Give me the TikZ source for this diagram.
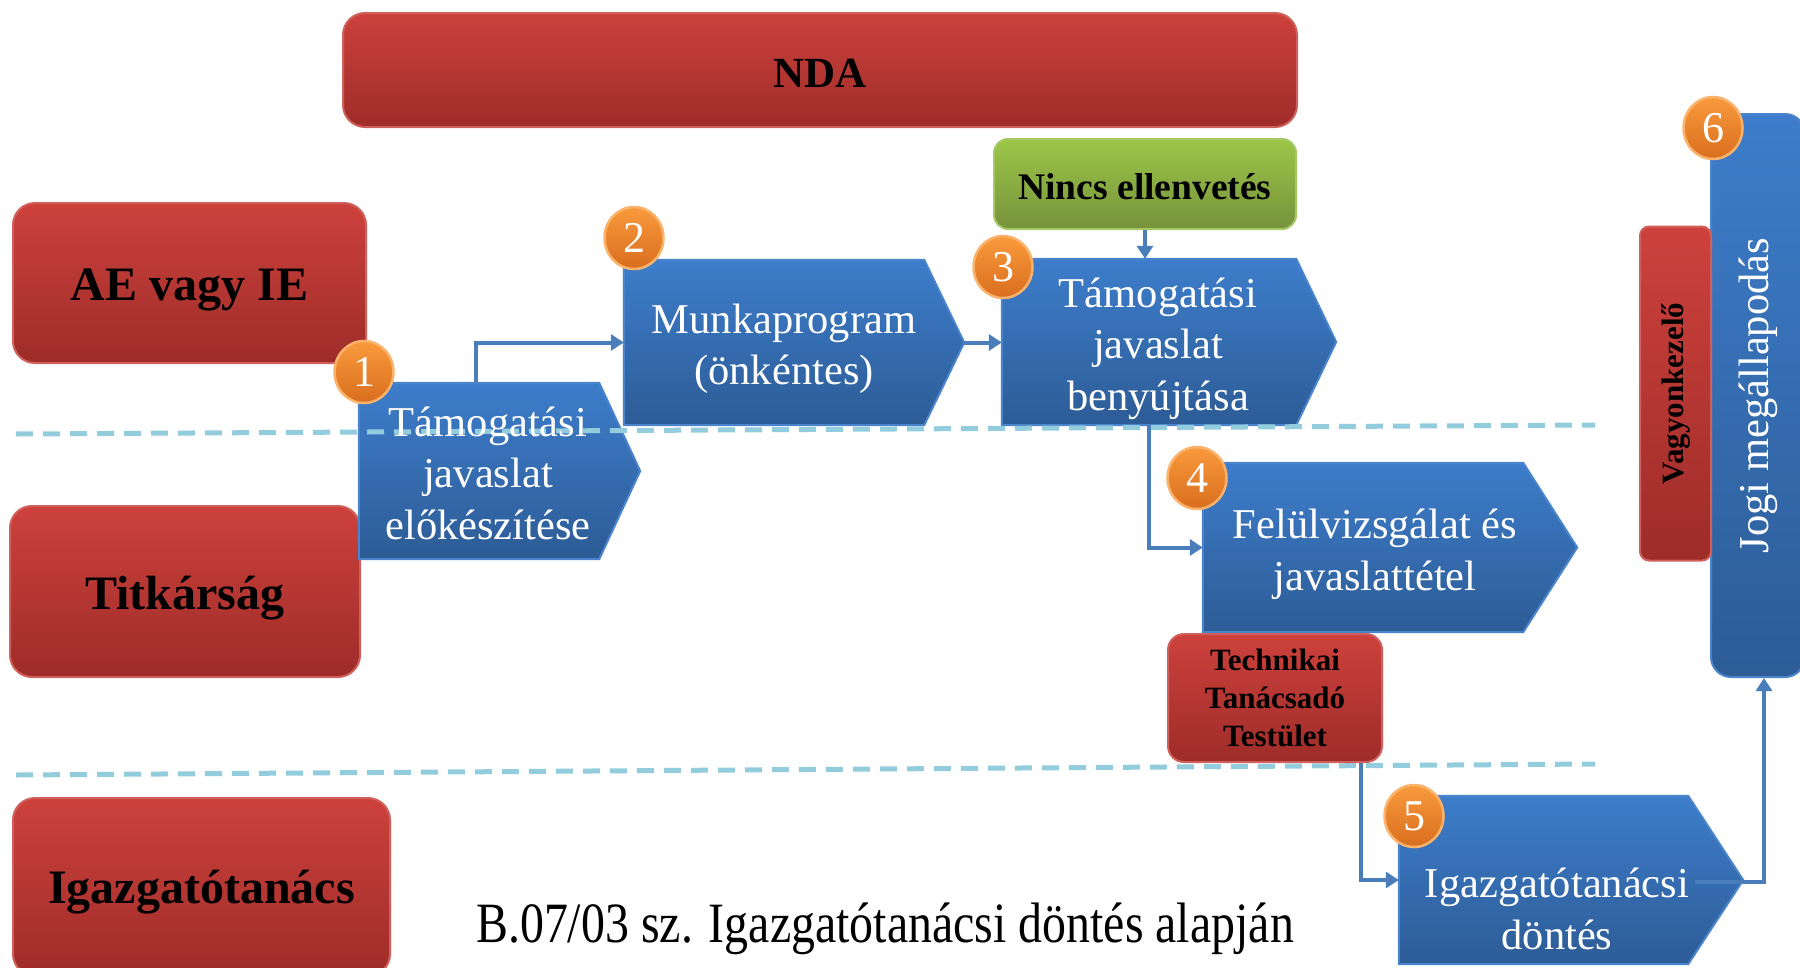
\documentclass[tikz,border=0pt]{standalone}
\usepackage{fontspec}
\usepackage{graphicx}
\setmainfont{Liberation Serif}
\newfontfamily\condfont[FakeStretch=0.84]{Liberation Serif}
\usetikzlibrary{arrows.meta,calc,shapes.geometric}
\definecolor{redtop}{HTML}{CD413C}
\definecolor{redbot}{HTML}{9E2C29}
\definecolor{redborder}{HTML}{D0605B}
\definecolor{bluetop}{HTML}{3D7DCB}
\definecolor{bluebot}{HTML}{2D5C96}
\definecolor{blueborder}{HTML}{4A84CC}
\definecolor{greentop}{HTML}{9DC648}
\definecolor{greenbot}{HTML}{76923B}
\definecolor{greenborder}{HTML}{A4C864}
\definecolor{orangetop}{HTML}{F99A3C}
\definecolor{orangebot}{HTML}{D96E1E}
\definecolor{orangeborder}{HTML}{FBB36C}
\definecolor{conncol}{HTML}{4A7EBB}
\definecolor{lanecol}{HTML}{93CDDD}
\begin{document}
\begin{tikzpicture}[x=1pt,y=-1pt,
  redbox/.style={draw=redborder, line width=2pt, rounded corners=22pt,
    top color=redtop, bottom color=redbot, align=center, text=black,
    inner sep=0pt, font=\bfseries\fontsize{48}{56}\selectfont},
  rtext/.style={align=center, text=black, inner sep=0pt, font=\bfseries\fontsize{48}{56}\selectfont},
  greenbox/.style={draw=greenborder, line width=2pt, rounded corners=14pt,
    top color=greentop, bottom color=greenbot, inner sep=0pt},
  bluefill/.style={draw=blueborder, line width=2pt, top color=bluetop, bottom color=bluebot},
  slot/.style={inner sep=0pt, draw=none},
  btext/.style={text=white, align=center, inner sep=0pt, font=\fontsize{42.5}{51.5}\selectfont},
  badge/.style={ellipse, minimum width=59pt, minimum height=62pt, inner sep=0pt,
    draw=orangeborder, line width=2.5pt, top color=orangetop, bottom color=orangebot,
    text=white, font=\fontsize{44}{44}\selectfont},
  conn/.style={draw=conncol, line width=4pt, -{Triangle[length=13pt,width=16pt]}},
  lane/.style={draw=lanecol, line width=5pt, dash pattern=on 17pt off 10pt}
]
\useasboundingbox (0,0) rectangle (1800,967);
\clip (0,0) rectangle (1800,967);
\fill[white] (0,0) rectangle (1800,967);

% role boxes
\node[redbox, minimum width=954pt, minimum height=114pt] (nda) at (820,70) {};
\node[rtext, font=\bfseries\fontsize{43}{50}\selectfont] (ndat) at (820,73) {NDA};
\node[redbox, minimum width=353pt, minimum height=160pt] (ae) at (189.5,283) {};
\node[rtext] (aet) at (189.5,290) {AE vagy IE};
\node[redbox, minimum width=350pt, minimum height=171pt] (tit) at (185,591.5) {};
\node[rtext] (titt) at (185,598.5) {Titkárság};
\node[redbox, minimum width=377pt, minimum height=178pt] (igt) at (201.5,887) {};
\node[rtext] (igtt) at (201.5,892) {Igazgatótanács};
\node[greenbox, minimum width=302pt, minimum height=90pt] (nincs) at (1145,184) {};
\node[rtext, font=\bfseries\fontsize{37.5}{44}\selectfont] (nincst) at (1145,186.5) {Nincs ellenvetés};

% blue step boxes
\node[slot, minimum width=240pt, minimum height=176pt] (b1) at (479,471) {};
\node[slot, minimum width=300pt, minimum height=165pt] (b2) at (774,342.5) {};
\node[slot, minimum width=294pt, minimum height=166pt] (b3) at (1149,342) {};
\node[slot, minimum width=320pt, minimum height=169pt] (b4) at (1363,547.5) {};
\node[slot, minimum width=289pt, minimum height=168pt] (b5) at (1543.5,880) {};
\path[bluefill] (b1.north west) -- (b1.north east) -- ([xshift=41pt]b1.east) -- (b1.south east) -- (b1.south west) -- cycle;
\path[bluefill] (b2.north west) -- (b2.north east) -- ([xshift=40pt]b2.east) -- (b2.south east) -- (b2.south west) -- cycle;
\path[bluefill] (b3.north west) -- (b3.north east) -- ([xshift=40pt]b3.east) -- (b3.south east) -- (b3.south west) -- cycle;
\path[bluefill] (b4.north west) -- (b4.north east) -- ([xshift=54pt]b4.east) -- (b4.south east) -- (b4.south west) -- cycle;
\path[bluefill] (b5.north west) -- (b5.north east) -- ([xshift=55pt]b5.east) -- (b5.south east) -- (b5.south west) -- cycle;
\node[bluefill, rounded corners=20pt, minimum width=94pt, minimum height=563pt, inner sep=0pt,
  text=white, font=\fontsize{42.5}{50}\selectfont] (jogi) at (1758,395.5) {\rotatebox{90}{Jogi megállapodás}};

% lane separators
\draw[lane] (16,434) -- (1595,425);
\draw[lane] (16,775) -- (1595,764);

% step texts
\node[btext] (b1t) at (488,473) {Támogatási\\javaslat\\előkészítése};
\node[btext] (b2t) at (784,349) {Munkaprogram\\(önkéntes)};
\node[btext] (b3t) at (1158,348.5) {Támogatási\\javaslat\\benyújtása};
\node[btext] (b4t) at (1375,554) {Felülvizsgálat és\\javaslattétel};
\node[btext] (b5t) at (1557,909) {Igazgatótanácsi\\döntés};

% connectors
\draw[conn] ([xshift=-3pt]b1.north) |- (b2.west);
\coordinate (b2tip) at ([xshift=40pt]b2.east);
\draw[conn] (b2tip) -- (b2tip -| b3.west);
\draw[conn] (nincs.south) -- (nincs.south |- b3.north);
\draw[conn] (b3.south) |- (b4.west);
\draw[conn] ([xshift=-2pt]b4.south) |- (b5.west);
\coordinate (c6s) at (1695,882);
\draw[conn] (c6s) -| ([xshift=6pt]jogi.south);

% overlays
\node[redbox, rounded corners=16pt, minimum width=214pt, minimum height=128pt,
  font=\bfseries\fontsize{31}{38}\selectfont] (ttt) at (1275,698) {Technikai\\Tanácsadó\\Testület};
\node[redbox, rotate=90, rounded corners=9pt, minimum width=334pt, minimum height=71pt,
  font=\bfseries\fontsize{31}{36}\selectfont] (vagy) at (1675.5,393.5) {Vagyonkezelő};

% badges
\node[badge] (n1) at (364,372) {1};
\node[badge] (n2) at (634,238) {2};
\node[badge] (n3) at (1003,267) {3};
\node[badge] (n4) at (1197,478) {4};
\node[badge] (n5) at (1414,816) {5};
\node[badge] (n6) at (1713,128) {6};

% caption
\node[anchor=base west, inner sep=0pt, font=\condfont\fontsize{57}{60}\selectfont] (basis) at (476,942) {B.07/03 sz. Igazgatótanácsi döntés alapján};
\end{tikzpicture}
\end{document}
